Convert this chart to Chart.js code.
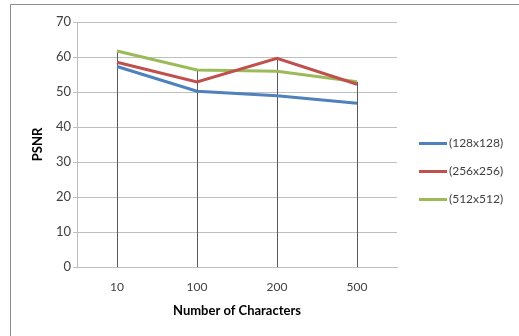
<!DOCTYPE html>
<html>
<head>
<meta charset="utf-8">
<script src="https://cdn.jsdelivr.net/npm/chart.js@4.4.0/dist/chart.umd.min.js"></script>
<style>
  html, body { margin: 0; padding: 0; background: #fff; }
  #wrap { width: 519px; height: 336px; }
</style>
</head>
<body>
<div id="wrap"><canvas id="chart1" width="519" height="336"></canvas></div>
<script>
// datos
var caracteres = ['10', '100', '200', '500'];
var serieNombres = ['(128x128)', '(256x256)', '(512x512)'];
var psnr128 = [57.3, 50.2, 48.9, 46.8];
var psnr256 = [58.5, 52.9, 59.6, 52.2];
var psnr512 = [61.7, 56.3, 55.9, 52.9];
var coloresSerie = ['#4F81BD', '#C0504D', '#9BBB59'];

var fuente = 'Lato, "Liberation Sans", sans-serif';
var grisTexto = '#404040';

// marco exterior y lineas de caida (drop lines)
var marcoYLineas = {
  id: 'marcoYLineas',
  beforeDatasetsDraw: function(chart) {
    var ctx = chart.ctx;
    var area = chart.chartArea;
    var n = chart.data.labels.length;
    ctx.save();
    ctx.strokeStyle = '#595959';
    ctx.lineWidth = 1;
    for (var i = 0; i < n; i++) {
      var minY = area.bottom;
      var x = null;
      for (var d = 0; d < chart.data.datasets.length; d++) {
        var p = chart.getDatasetMeta(d).data[i];
        if (p) { minY = Math.min(minY, p.y); x = p.x; }
      }
      if (x !== null) {
        var px = Math.round(x) + 0.5;
        ctx.beginPath();
        ctx.moveTo(px, minY);
        ctx.lineTo(px, area.bottom);
        ctx.stroke();
      }
    }
    ctx.restore();
  },
  afterDraw: function(chart) {
    var ctx = chart.ctx;
    ctx.save();
    // marco
    ctx.strokeStyle = '#8c8c8c';
    ctx.lineWidth = 1;
    ctx.beginPath();
    ctx.moveTo(10.5, chart.height + 2);
    ctx.lineTo(10.5, 4.5);
    ctx.lineTo(chart.width + 2, 4.5);
    ctx.stroke();
    // leyenda
    var ds = chart.data.datasets;
    ctx.font = '12px ' + fuente;
    ctx.textBaseline = 'middle';
    ctx.textAlign = 'left';
    for (var i = 0; i < ds.length; i++) {
      var y = 143.5 + i * 28;
      ctx.strokeStyle = ds[i].borderColor;
      ctx.lineWidth = 3;
      ctx.beginPath();
      ctx.moveTo(419, y);
      ctx.lineTo(447, y);
      ctx.stroke();
      ctx.fillStyle = grisTexto;
      ctx.fillText(ds[i].label, 449, y);
    }
    ctx.restore();
  }
};

var datos = [psnr128, psnr256, psnr512];
var datasets = [];
for (var i = 0; i < datos.length; i++) {
  datasets.push({
    label: serieNombres[i],
    data: datos[i],
    borderColor: coloresSerie[i],
    backgroundColor: coloresSerie[i],
    borderWidth: 3,
    pointRadius: 0,
    tension: 0,
    fill: false
  });
}

new Chart(document.getElementById('chart1'), {
  type: 'line',
  data: { labels: caracteres, datasets: datasets },
  options: {
    responsive: false,
    animation: false,
    layout: { padding: { top: 22, right: 122, left: 0, bottom: 0 } },
    plugins: { legend: { display: false }, tooltip: { enabled: false } },
    scales: {
      x: {
        offset: true,
        grid: { display: false, drawTicks: false },
        border: { display: true, color: '#bfbfbf' },
        ticks: { color: grisTexto, font: { family: fuente, size: 12 }, padding: 13 },
        title: { display: true, text: 'Number of Characters', color: '#000',
                 font: { family: fuente, size: 13, weight: 'bold' }, padding: { top: 0, bottom: 17 } },
        afterFit: function(scale) { scale.height = 69; }
      },
      y: {
        min: 0,
        max: 70,
        ticks: { stepSize: 10, color: grisTexto, font: { family: fuente, size: 13 }, padding: 2 },
        grid: { color: '#bfbfbf', tickLength: 4 },
        border: { display: true, color: '#bfbfbf' },
        title: { display: true, text: 'PSNR', color: '#000',
                 font: { family: fuente, size: 13, weight: 'bold' }, padding: { top: 30, bottom: 0 } },
        afterFit: function(scale) { scale.width = 77; }
      }
    }
  },
  plugins: [marcoYLineas]
});
</script>
</body>
</html>
